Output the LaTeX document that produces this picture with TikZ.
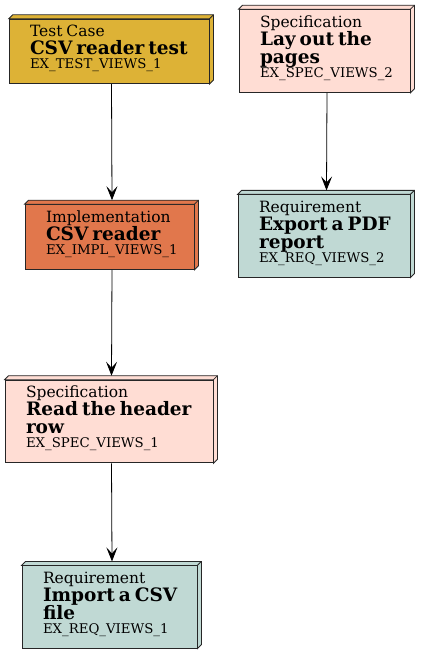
\documentclass[tikz,border=0pt]{standalone}
\usepackage{fontspec}
\setmainfont{DejaVu Serif}
\usepackage{xcolor}
\usetikzlibrary{arrows.meta,calc}

\definecolor{testcol}{HTML}{DDB236}
\definecolor{implcol}{HTML}{E1774C}
\definecolor{speccol}{HTML}{FFDDD4}
\definecolor{reqcol}{HTML}{C0D9D4}

\setlength{\lineskiplimit}{-20pt}
\newcommand{\kindline}[1]{\mbox{\fontsize{15.5}{18}\selectfont #1}}
\newcommand{\nameline}[1]{\mbox{\fontsize{18.5}{18}\selectfont\bfseries #1}}
\newcommand{\idline}[1]{\mbox{\fontsize{13.3}{14}\selectfont #1\rule[-9pt]{0pt}{9pt}}}

\begin{document}
\begin{tikzpicture}[x=1pt,y=-1pt,
every node/.style = {shape=rectangle,
	draw=black!85, line width=0.8pt,
	align=left,
	inner xsep=21pt, inner ysep=6pt,
	font=\fontsize{12}{18}\selectfont
	},
face/.style = {draw=black!85, line width=0.8pt},
link/.style = {draw=black, line width=0.8pt, -{Stealth[length=14pt,width=11pt,inset=6pt]}}
]
\useasboundingbox (0,0) rectangle (421,655);
\node[fill=testcol,text width=158pt] (tc) at (109,51.5) {
	\kindline{Test Case}\\
	\nameline{CSV reader test}\\[-4pt]
	\idline{EX\_TEST\_VIEWS\_1}};
\node[fill=speccol,text width=129pt] (spec2) at (324.5,51) {
	\kindline{Specification}\\
	\nameline{Lay out the}\\
	\nameline{pages}\\[-4pt]
	\idline{EX\_SPEC\_VIEWS\_2}};
\node[fill=implcol,text width=127pt] (impl) at (109.5,237) {
	\kindline{Implementation}\\
	\nameline{CSV reader}\\[-4pt]
	\idline{EX\_IMPL\_VIEWS\_1}};
\node[fill=reqcol,text width=130pt] (req2) at (324,236) {
	\kindline{Requirement}\\
	\nameline{Export a PDF}\\
	\nameline{report}\\[-4pt]
	\idline{EX\_REQ\_VIEWS\_2}};
\node[fill=speccol,text width=166pt] (spec1) at (109,421.5) {
	\kindline{Specification}\\
	\nameline{Read the header}\\
	\nameline{row}\\[-4pt]
	\idline{EX\_SPEC\_VIEWS\_1}};
\node[fill=reqcol,text width=133pt] (req1) at (109.5,607) {
	\kindline{Requirement}\\
	\nameline{Import a CSV}\\
	\nameline{file}\\[-4pt]
	\idline{EX\_REQ\_VIEWS\_1}};

% top and side faces
\foreach \n/\c in {tc/testcol,spec2/speccol,impl/implcol,req2/reqcol,spec1/speccol,req1/reqcol}{
	\draw[face,fill=\c] (\n.north west) -- ++(4pt,4pt) -| ([shift={(4pt,4pt)}]\n.south east)
		-- (\n.south east) -- (\n.north east) -- cycle;
	\draw[face] (\n.north east) -- ++(4pt,4pt);
}

\draw[link] ([xshift=2.5pt]tc.south) -- ([xshift=2.5pt,yshift=4pt]impl.north);
\draw[link] ([xshift=2.5pt]impl.south) -- ([xshift=2.5pt,yshift=4pt]spec1.north);
\draw[link] ([xshift=2.5pt]spec1.south) -- ([xshift=2.5pt,yshift=4pt]req1.north);
\draw[link] ([xshift=2.5pt]spec2.south) -- ([xshift=2.5pt,yshift=4pt]req2.north);
\end{tikzpicture}
\end{document}
